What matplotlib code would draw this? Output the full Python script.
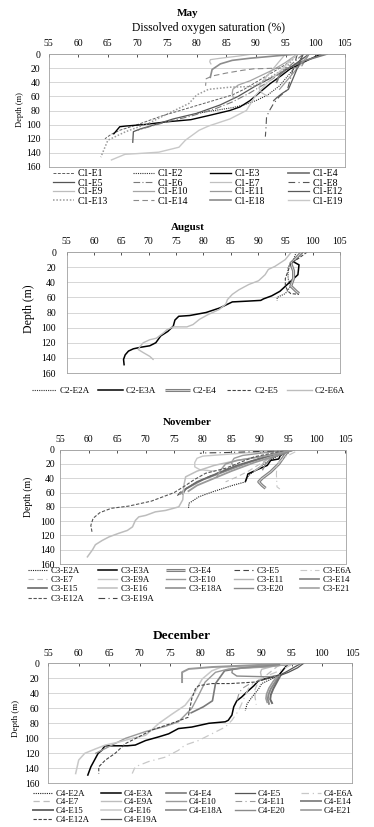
import matplotlib
matplotlib.use("Agg")
import matplotlib.pyplot as plt

plt.rcParams['font.family'] = ['Liberation Serif', 'DejaVu Serif']

W, H = 374, 827

# ---------------- May ----------------
may_labels = ['C1-E1', 'C1-E2', 'C1-E3', 'C1-E4', 'C1-E5', 'C1-E6', 'C1-E7', 'C1-E8',
              'C1-E9', 'C1-E10', 'C1-E11', 'C1-E12', 'C1-E13', 'C1-E14', 'C1-E18', 'C1-E19']
may_sat = [
    [97, 95, 92, 90, 88, 86, 82, 78, 74, 70, 67, 65.5, 64.5],
    [98, 97, 95.5, 94, 92, 90, 88, 86, 83, 80],
    [101, 98.7, 95.8, 94.4, 92.4, 90.7, 89, 87.3, 85.6, 82.1, 79, 75, 71, 68, 67, 66.5, 66],
    [102, 100, 98, 96.5, 95, 94, 93.5],
    [99, 96, 93, 90, 87, 84, 80, 76, 73, 70.5, 69.3, 69.2],
    [98, 95, 92, 89, 86, 83, 79, 75, 72, 70],
    [89.5, 87, 84, 82.3, 82.2, 82.4],
    [97, 96.5, 96, 95.3, 94, 93, 92.3, 91.8, 91.7, 91.6],
    [95, 94, 93, 92, 91, 90.5, 91, 92],
    [97, 95, 93, 91, 89, 87, 86.1, 86, 86.2],
    [99, 98, 97, 96, 95, 94],
    [98, 97.5, 97, 96.5, 96, 95.5, 94.4, 93.5, 93],
    [97, 95, 92, 89.5, 85.6, 82, 80, 78.7, 75, 71.9, 68, 65, 63.8],
    [99, 97.6, 94, 89.6, 87.8, 85, 82.7, 81.6, 81.5],
    [97, 93, 89, 86, 84, 82.6, 82.3],
    [97, 95.5, 94, 92, 90, 88.4, 85.6, 82, 80.4, 78.1, 77, 73.6, 70, 67.9, 65.6],
]
may_depth = [
    [0, 15, 30, 40, 50, 58, 68, 78, 88, 100, 108, 114, 120],
    [0, 15, 30, 45, 58, 66, 72, 76, 80, 84],
    [0, 9, 21, 30, 42, 54, 66, 75, 80, 87, 93, 96, 100, 102, 103, 108, 113],
    [0, 5, 10, 16, 22, 30, 40],
    [0, 18, 32, 45, 60, 72, 84, 92, 100, 106, 110, 125],
    [0, 22, 40, 55, 68, 78, 88, 96, 103, 108],
    [0, 3, 6, 8, 11, 14],
    [0, 15, 30, 51, 60, 70, 80, 89, 105, 117],
    [0, 10, 20, 30, 40, 48, 55, 60],
    [0, 12, 22, 30, 38, 44, 50, 56, 62],
    [0, 10, 20, 30, 40, 50],
    [0, 10, 20, 30, 40, 50, 56, 62, 66],
    [0, 20, 35, 46, 47, 50, 58, 70, 85, 98, 110, 122, 146],
    [0, 19, 20, 21, 23, 27, 31, 35, 45],
    [0, 3, 6, 9, 14, 22, 33],
    [0, 12, 25, 40, 58, 80, 92, 102, 108, 122, 132, 139, 141, 142, 150],
]
may_style = [
    ('#606060', (0, (3, 1.5)), 0.7), ('#333333', (0, (1, 1)), 0.8), ('#000000', '-', 1.0),
    ('#7a7a7a', '-', 1.3), ('#555555', '-', 0.9), ('#7a7a7a', (0, (6, 2, 1, 2)), 0.8),
    ('#c0c0c0', '-', 0.9), ('#555555', (0, (6, 3, 1, 3)), 0.8), ('#bdbdbd', '-', 0.9),
    ('#a5a5a5', '-', 0.9), ('#9a9a9a', '-', 0.9), ('#5a5a5a', '-', 0.9),
    ('#9a9a9a', (0, (1, 1.2)), 1.1), ('#8a8a8a', (0, (5, 3)), 0.8), ('#8c8c8c', '-', 1.2),
    ('#c8c8c8', '-', 1.0),
]

# ---------------- August ----------------
aug_labels = ['C2-E2A', 'C2-E3A', 'C2-E4', 'C2-E5', 'C2-E6A']
aug_sat = [
    [97, 96.5, 95.5, 95.5, 96, 95, 93.5, 93.5],
    [98.2, 97, 96.5, 97.5, 97.3, 95.5, 94.0, 92.5, 91.0, 90.5, 88, 85.3, 83, 80.5, 77.5,
     75.5, 74.8, 74.5, 73.5, 72.2, 71.3, 70.2, 68.5, 67.2, 66.3, 65.7, 65.4, 65.5],
    [98, 97, 96, 96.5, 96.5, 96, 97, 97.5],
    [99, 97.5, 96, 95.5, 95, 95, 95.5, 96, 97.5],
    [96.1, 95, 93.1, 91.9, 91.3, 90.7, 90.1, 88.3, 86.5, 85.3, 84.4, 84.1, 82.9, 80.8, 79.3,
     78.1, 77, 74.5, 73.3, 72.7, 71.4, 70.2, 69, 68.4, 68.1, 69, 70.2, 70.8],
]
aug_depth = [
    [0, 10, 20, 35, 45, 55, 60, 64],
    [0, 8, 13, 17, 30, 42, 52, 58, 62, 64, 65, 66, 74, 80, 84, 85, 90, 98, 105, 111, 120,
     124, 126, 128, 131, 136, 142, 149],
    [0, 8, 15, 25, 35, 45, 52, 55],
    [0, 8, 15, 25, 35, 45, 52, 55, 56],
    [0, 10, 19, 23, 30, 34, 38, 43, 50, 56, 63, 69, 76, 83, 89, 96, 99, 99, 103, 107, 114,
     116, 120, 125, 129, 133, 138, 142],
]
aug_style = [
    ('#333333', (0, (1, 1)), 0.8), ('#000000', '-', 1.1), ('double', '-', 2.2),
    ('#444444', (0, (3, 1.5)), 0.8), ('#bdbdbd', '-', 1.0),
]

# ---------------- November ----------------
nov_labels = ['C3-E2A', 'C3-E3A', 'C3-E4', 'C3-E5', 'C3-E6A', 'C3-E7', 'C3-E9A', 'C3-E10',
              'C3-E11', 'C3-E14', 'C3-E15', 'C3-E16', 'C3-E18A', 'C3-E20', 'C3-E21',
              'C3-E12A', 'C3-E19A']
nov_sat = [
    [94.5, 93.4, 91.5, 89.5, 88.5, 87.6, 87.5, 85.2, 81.7, 79.3, 77.6, 77.5],
    [94.8, 93.6, 93.3, 91.9, 91.3, 89.8, 88.7, 87.9, 87.7, 87.5],
    [94.8, 93.3, 91.9, 90.4, 89.8, 90.4, 91],
    [95, 93, 90, 87, 84, 81, 78, 76, 75.5],
    [96.2, 94.5, 93, 92.9, 93, 93.5],
    [94, 92, 90, 88, 86, 84],
    [95, 90, 85, 80, 79, 78.6, 78.6, 79.5, 82],
    [96, 91, 87, 85.5, 85, 85.3],
    [95, 93, 91, 90.5, 90, 89],
    [96, 92, 88, 84, 80, 77, 76],
    [95, 91, 86, 82, 79, 77, 76.5],
    [96, 93, 90, 86, 82, 79, 77, 76.7, 76.5, 75.8, 73.5, 71.7, 70, 68.8, 68.2, 67.7, 66.8,
     65.3, 63.6, 62.4, 61.2, 60.7, 59.8],
    [96, 93, 89, 85, 82, 79, 77.5],
    [96, 94, 92, 91, 90.5],
    [96, 93, 90, 86, 84, 83, 82.5],
    [95, 89, 84, 80.5, 78.5, 77, 75, 71, 67, 64, 62, 60.8, 60.4, 60.6],
    [95, 92, 88, 84, 80.5, 79.5],
]
nov_depth = [
    [3, 8, 16, 27, 33, 40, 45, 50, 59, 66, 75, 82],
    [3, 8, 13, 15, 22, 27, 31, 34, 40, 44],
    [3, 20, 31, 40, 45, 50, 54],
    [0, 6, 12, 20, 28, 38, 50, 60, 65],
    [3, 10, 20, 34, 52, 55],
    [0, 10, 20, 30, 38, 45],
    [0, 3, 6, 9, 12, 18, 24, 28, 30],
    [0, 4, 8, 12, 18, 22],
    [0, 8, 15, 20, 25, 30],
    [0, 8, 18, 30, 42, 55, 62],
    [0, 10, 22, 35, 45, 55, 62],
    [0, 5, 10, 15, 22, 30, 38, 50, 70, 80, 85, 87, 92, 94, 99, 108, 113, 117, 122, 127,
     133, 140, 150],
    [0, 8, 18, 30, 40, 50, 58],
    [0, 6, 12, 20, 28],
    [0, 5, 10, 15, 20, 30, 38],
    [0, 10, 26, 33, 42, 50, 60, 72, 79, 82, 88, 96, 106, 115],
    [0, 2, 3, 4, 4.5, 5],
]
nov_style = [
    ('#222222', (0, (1, 1)), 0.8), ('#000000', '-', 1.1), ('double', '-', 2.2),
    ('#444444', (0, (5, 3)), 0.8), ('#c8c8c8', (0, (6, 3, 1, 3)), 0.8),
    ('#bdbdbd', (0, (5, 3)), 0.8), ('#c8c8c8', '-', 1.0), ('#9a9a9a', '-', 1.0),
    ('#b5b5b5', '-', 1.0), ('#8a8a8a', '-', 1.3), ('#6a6a6a', '-', 1.2),
    ('#bdbdbd', '-', 1.1), ('#999999', '-', 1.3), ('#8a8a8a', '-', 1.0),
    ('#9a9a9a', '-', 1.1), ('#555555', (0, (3, 1.5)), 0.8), ('#444444', (0, (6, 3, 1, 3)), 0.8),
]

# ---------------- December ----------------
dec_labels = ['C4-E2A', 'C4-E3A', 'C4-E4', 'C4-E5', 'C4-E6A', 'C4-E7', 'C4-E9A', 'C4-E10',
              'C4-E11', 'C4-E14', 'C4-E15', 'C4-E16', 'C4-E18A', 'C4-E20', 'C4-E21',
              'C4-E12A', 'C4-E19A']
dec_sat = [
    [93, 90.1, 89.6, 88.6, 87.7, 87.4],
    [94.5, 92.9, 89.6, 88.8, 87.7, 86.8, 86, 85.5, 85.2, 84.6, 84.1, 81.4, 78.6, 76.4, 74.8,
     73.2, 71, 69.3, 68, 64.3, 63.8, 63.2, 62.6, 62, 61.5],
    [96, 94, 91, 87, 84, 82.5, 82, 80.5, 78.5],
    [96.6, 95.5, 94, 93],
    [95, 93, 90, 88, 86.3, 85.2, 84.1, 81.9, 79.7, 77.5, 76.4, 74.3, 71.5, 69.3, 68.8],
    [93, 91, 89.5, 89, 89, 89.2],
    [95.5, 92, 90.1, 89.9, 90],
    [96, 90.7, 84.7, 82.5, 80.8, 79.7, 78.6, 76.4, 74.3, 71, 67.7, 65, 62.8],
    [92.5, 90, 88, 86.8, 86.3, 86],
    [93, 92.3, 91.6, 91.2, 91.1, 91.3],
    [93.2, 92.6, 92, 91.6, 91.5, 91.8],
    [97, 90, 83.5, 81.9, 80.3, 79, 77.5, 75.3, 73.2, 71, 68.8, 66.6, 64.4, 62.8, 61, 60, 59.5],
    [93, 87.4, 81.9, 78.1, 77, 77],
    [93, 88, 85.3, 85.2, 86, 91, 93],
    [92.8, 92, 91.3, 90.9, 90.8, 91],
    [92.9, 89, 85, 81.9, 79.7, 79.2, 78.6, 78, 75.3, 72, 69.9, 67.7, 66, 64.4, 63.3, 63.3],
    [97, 96, 94.5, 93.2],
]
dec_depth = [
    [16, 27, 34, 44, 54, 63],
    [0, 16, 23, 30, 38, 45, 50, 58, 69, 76, 78, 80, 85, 87, 94, 98, 103, 109, 110, 110, 116,
     120, 129, 138, 149],
    [0, 2, 4, 6, 10, 27, 50, 58, 66],
    [0, 5, 12, 16],
    [2, 10, 20, 32, 63, 76, 85, 94, 103, 109, 116, 125, 131, 138, 147],
    [2, 15, 25, 35, 45, 55],
    [0, 4, 8, 12, 16],
    [0, 5, 7.5, 12, 25, 43, 60, 78, 84, 91, 100, 111, 120],
    [16, 22, 28, 34, 42, 50],
    [16, 25, 34, 42, 48, 54],
    [16, 25, 34, 42, 48, 53],
    [0, 3, 5, 10, 21, 40, 56, 68, 80, 96, 100, 105, 109, 114, 120, 129, 147],
    [1, 3, 5, 7.5, 12, 25],
    [2, 5, 7.5, 12.5, 17, 18, 17],
    [16, 24, 33, 41, 47, 52],
    [16, 25, 27, 27, 30, 34, 47, 72, 80, 89, 98, 107, 120, 129, 138, 147],
    [0, 6, 12, 16],
]
dec_style = [
    ('#222222', (0, (1, 1)), 0.8), ('#000000', '-', 1.1), ('#7a7a7a', '-', 1.2),
    ('#555555', '-', 0.9), ('#c8c8c8', (0, (6, 3, 1, 3)), 0.9), ('#bdbdbd', (0, (5, 3)), 0.9),
    ('#bdbdbd', '-', 1.0), ('#9a9a9a', '-', 1.0), ('#999999', (0, (6, 3, 1, 3)), 0.8),
    ('#8a8a8a', '-', 1.4), ('#6a6a6a', '-', 1.4), ('#c8c8c8', '-', 1.1), ('#999999', '-', 1.4),
    ('#8a8a8a', '-', 1.0), ('#9a9a9a', '-', 1.2), ('#444444', (0, (3, 1.5)), 0.8),
    ('#555555', '-', 0.9),
]


def px_axes(fig, x0, x1, y0, y1):
    return fig.add_axes([x0 / W, 1 - y1 / H, (x1 - x0) / W, (y1 - y0) / H])


def draw_panel(fig, box, sat, depth, style, ypad):
    ax = px_axes(fig, *box)
    handles = []
    for s, d, (c, ls, lw) in zip(sat, depth, style):
        if c == 'double':
            l1, = ax.plot(s, d, color='#808080', lw=lw, solid_capstyle='butt')
            l2, = ax.plot(s, d, color='#dcdcdc', lw=0.6)
            handles.append((l1, l2))
        else:
            l, = ax.plot(s, d, color=c, ls=ls, lw=lw)
            handles.append(l)
    ax.set_xlim(55, 105)
    ax.set_ylim(160, 0)
    ax.set_xticks(range(55, 106, 5))
    ax.set_yticks(range(0, 161, 20))
    ax.xaxis.tick_top()
    ax.tick_params(axis='x', direction='in', length=2, width=0.6, pad=4, labelsize=7,
                   color='#333333')
    ax.tick_params(axis='y', length=0, pad=ypad, labelsize=7)
    ax.yaxis.grid(True, color='#d0d0d0', lw=0.6)
    ax.set_axisbelow(True)
    for sp in ax.spines.values():
        sp.set_color('#a0a0a0')
        sp.set_linewidth(0.6)
    return ax, handles


def add_legend(fig, handles, labels, ncol, xs, ytop, fs, hlen, lsp):
    for c in range(ncol):
        idx = list(range(c, len(labels), ncol))
        fig.legend([handles[i] for i in idx], [labels[i] for i in idx],
                   loc='upper left', bbox_to_anchor=(xs[c] / W, 1 - ytop / H),
                   frameon=False, fontsize=fs, handlelength=hlen, handletextpad=0.35,
                   labelspacing=lsp, borderpad=0, borderaxespad=0)


def ylab(x, y, size):
    fig.text(x / W, 1 - y / H, 'Depth (m)', rotation=90, ha='center', va='center',
             fontsize=size)


def title(x, y, txt, size):
    fig.text(x / W, 1 - y / H, txt, ha='center', va='center', fontsize=size,
             fontweight='bold')


fig = plt.figure(figsize=(W / 100, H / 100), dpi=100)

# May
ax, h = draw_panel(fig, (48.7, 344.7, 54, 167), may_sat, may_depth, may_style, 5.8)
title(187.5, 13.3, 'May', 8.0)
fig.text(209 / W, 1 - 27.7 / H, 'Dissolved oxygen saturation (%)', ha='center', va='center',
         fontsize=8.4)
ylab(20, 110, 6)
add_legend(fig, h, may_labels, 4, [53, 133, 210, 288], 169.5, 7, 2.2, 0.0)

# August
ax, h = draw_panel(fig, (66.7, 340, 252, 373), aug_sat, aug_depth, aug_style, 7.7)
title(187.5, 227, 'August', 7.9)
ylab(29.3, 309, 8.5)
add_legend(fig, h, aug_labels, 5, [31.7, 98, 165, 227, 287], 386.5, 6.6, 2.7, 0.0)

# November
ax, h = draw_panel(fig, (60, 345.5, 449.7, 564), nov_sat, nov_depth, nov_style, 3.6)
title(186.7, 422.5, 'November', 7.9)
ylab(28, 497, 7)
add_legend(fig, h, nov_labels, 5, [28, 98, 166, 234, 300], 567, 6.3, 2.2, 0.12)

# December
ax, h = draw_panel(fig, (48.3, 352.3, 663.3, 783.3), dec_sat, dec_depth, dec_style, 6.5)
title(181.7, 635.7, 'December', 9.6)
ylab(16, 718, 6.5)
add_legend(fig, h, dec_labels, 5, [33, 101, 166, 235, 301], 789.5, 6.4, 2.2, 0.05)

fig.savefig('out.png', dpi=100)
